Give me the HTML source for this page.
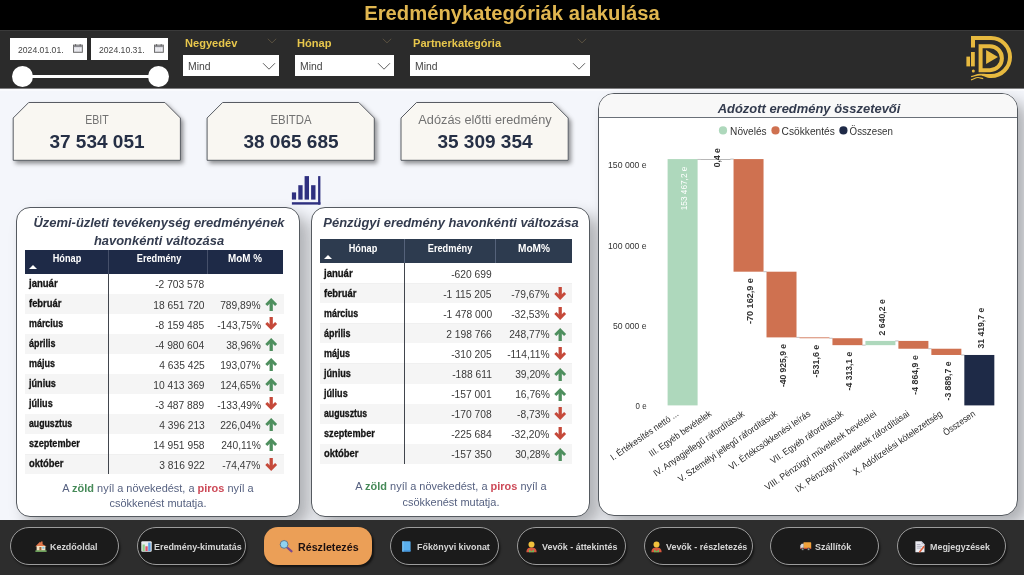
<!DOCTYPE html>
<html lang="hu"><head><meta charset="utf-8"><title>Eredménykategóriák alakulása</title>
<style>
html,body{margin:0;padding:0}
body{width:1024px;height:575px;position:relative;overflow:hidden;background:#f4f6fb;font-family:"Liberation Sans", sans-serif}
.t{position:absolute;white-space:nowrap;line-height:1;margin:0;padding:0}
.ar{position:absolute}
svg{display:block;overflow:visible}
</style></head><body>
<div style="position:absolute;left:0;top:0;width:1024px;height:30px;background:#000"></div>
<div style="position:absolute;left:0;top:30px;width:1024px;height:58px;background:#2b2b2b;border-top:1px solid #3a3a3a;box-sizing:border-box"></div>
<div style="position:absolute;left:0;top:88px;width:1024px;height:1px;background:#7e7e80"></div>
<div style="position:absolute;left:0;top:89px;width:1024px;height:2px;background:#f9fafd"></div>
<span class="t" style="top:3.47px;font-size:20.00px;color:#e0b650;font-weight:700;left:512.20px;transform:translateX(-50%) scaleX(1.0106);transform-origin:center center;">Eredménykategóriák alakulása</span>
<div style="position:absolute;left:10.2px;top:38.2px;width:76.6px;height:22px;background:#fff"></div>
<span class="t" style="top:45.04px;font-size:9.40px;color:#454545;left:17.70px;transform:scaleX(0.9206);transform-origin:left center;">2024.01.01.</span>
<svg style="position:absolute;left:73.1px;top:43.5px" width="9.8" height="8.8" viewBox="0 0 9.8 8.8"><rect x="0.45" y="1.1" width="8.9" height="7.2" fill="#dcdce2" stroke="#606060" stroke-width="0.9"/><rect x="0.9" y="1.5" width="8" height="1.5" fill="#8a8a90"/><path d="M1.7 4.1h1.9v2.9h-1.9zM4.4 4.1h1.5v2.9h-1.5zM6.7 4.1h1.5v2.9h-1.5z" fill="#eeeef2"/><path d="M2.6 0.2v1.6M7.2 0.2v1.6" stroke="#585858" stroke-width="1"/></svg>
<div style="position:absolute;left:91.0px;top:38.2px;width:77.3px;height:22px;background:#fff"></div>
<span class="t" style="top:45.04px;font-size:9.40px;color:#454545;left:98.50px;transform:scaleX(0.9206);transform-origin:left center;">2024.10.31.</span>
<svg style="position:absolute;left:153.9px;top:43.5px" width="9.8" height="8.8" viewBox="0 0 9.8 8.8"><rect x="0.45" y="1.1" width="8.9" height="7.2" fill="#dcdce2" stroke="#606060" stroke-width="0.9"/><rect x="0.9" y="1.5" width="8" height="1.5" fill="#8a8a90"/><path d="M1.7 4.1h1.9v2.9h-1.9zM4.4 4.1h1.5v2.9h-1.5zM6.7 4.1h1.5v2.9h-1.5z" fill="#eeeef2"/><path d="M2.6 0.2v1.6M7.2 0.2v1.6" stroke="#585858" stroke-width="1"/></svg>
<div style="position:absolute;left:22px;top:75.2px;width:136px;height:2.8px;background:#fff"></div>
<div style="position:absolute;left:11.8px;top:66.0px;width:21px;height:21px;border-radius:50%;background:#fff"></div>
<div style="position:absolute;left:147.9px;top:66.0px;width:21px;height:21px;border-radius:50%;background:#fff"></div>
<span class="t" style="top:37.08px;font-size:11.60px;color:#e8c74c;font-weight:700;left:185.30px;transform:scaleX(0.9563);transform-origin:left center;">Negyedév</span>
<div style="position:absolute;left:182.8px;top:55.3px;width:96.4px;height:21px;background:#fff"></div>
<span class="t" style="top:61.23px;font-size:10.60px;color:#444;left:187.80px;transform:scaleX(0.9796);transform-origin:left center;">Mind</span>
<svg style="position:absolute;left:261.7px;top:62px" width="14" height="9" viewBox="0 0 14 9"><path d="M1 1.2L7 7.2L13 1.2" fill="none" stroke="#505050" stroke-width="0.9"/></svg>
<svg style="position:absolute;left:266.7px;top:38px" width="10" height="6" viewBox="0 0 10 6"><path d="M0.8 0.8L5 4.8L9.2 0.8" fill="none" stroke="#5a5140" stroke-width="1"/></svg>
<span class="t" style="top:37.08px;font-size:11.60px;color:#e8c74c;font-weight:700;left:297.20px;transform:scaleX(0.9563);transform-origin:left center;">Hónap</span>
<div style="position:absolute;left:294.7px;top:55.3px;width:99.3px;height:21px;background:#fff"></div>
<span class="t" style="top:61.23px;font-size:10.60px;color:#444;left:299.70px;transform:scaleX(0.9796);transform-origin:left center;">Mind</span>
<svg style="position:absolute;left:376.5px;top:62px" width="14" height="9" viewBox="0 0 14 9"><path d="M1 1.2L7 7.2L13 1.2" fill="none" stroke="#505050" stroke-width="0.9"/></svg>
<svg style="position:absolute;left:381.5px;top:38px" width="10" height="6" viewBox="0 0 10 6"><path d="M0.8 0.8L5 4.8L9.2 0.8" fill="none" stroke="#5a5140" stroke-width="1"/></svg>
<span class="t" style="top:37.08px;font-size:11.60px;color:#e8c74c;font-weight:700;left:413.00px;transform:scaleX(0.9563);transform-origin:left center;">Partnerkategória</span>
<div style="position:absolute;left:409.8px;top:55.3px;width:179.9px;height:21px;background:#fff"></div>
<span class="t" style="top:61.23px;font-size:10.60px;color:#444;left:414.80px;transform:scaleX(0.9796);transform-origin:left center;">Mind</span>
<svg style="position:absolute;left:572.2px;top:62px" width="14" height="9" viewBox="0 0 14 9"><path d="M1 1.2L7 7.2L13 1.2" fill="none" stroke="#505050" stroke-width="0.9"/></svg>
<svg style="position:absolute;left:577.2px;top:38px" width="10" height="6" viewBox="0 0 10 6"><path d="M0.8 0.8L5 4.8L9.2 0.8" fill="none" stroke="#5a5140" stroke-width="1"/></svg>
<svg style="position:absolute;left:960px;top:30px" width="64" height="58" viewBox="960 30 64 58">
<g fill="none" stroke="#e7b93f" stroke-width="4">
<path d="M973 47.5V38.1H991A19 19 0 0 1 991 76.1"/>
<path d="M980.6 46.2H989.9A12 12 0 0 1 989.9 70.2H980.6Z"/>
</g>
<g fill="#e7b93f">
<path d="M991.2 74.1C987 74.1 984 73.5 980 73.7C976.5 73.9 974 75.2 971 76L971.3 77.3C974 76.6 976.5 75.5 980 75.4C984 75.4 986 78.1 991.2 78.1Z"/>
<path d="M986.1 50.1V64.1L998 57.1Z"/>
<rect x="966.4" y="56.6" width="3.6" height="9.8"/>
<rect x="971" y="52" width="3.8" height="14.4"/>
<circle cx="973.3" cy="71.1" r="1.5"/>
</g>
<path d="M971 79.9C973.5 79.3 975.5 77.5 978 77.5C980 77.5 981.5 78.4 983.2 78.6" fill="none" stroke="#e7b93f" stroke-width="1.2"/>
</svg>
<svg style="position:absolute;left:0;top:90px" width="600" height="90" viewBox="0 90 600 90"><defs><filter id="ds" x="-10%" y="-10%" width="130%" height="140%"><feDropShadow dx="2.4" dy="2.8" stdDeviation="1.9" flood-color="#000" flood-opacity="0.42"/></filter></defs>
<polygon points="28.7,102.5 164.9,102.5 180.4,118 180.4,160.3 13.2,160.3 13.2,118" fill="#f9f7f2" stroke="#50545c" stroke-width="0.95" filter="url(#ds)"/>
<polygon points="222.6,102.5 358.8,102.5 374.3,118 374.3,160.3 207.1,160.3 207.1,118" fill="#f9f7f2" stroke="#50545c" stroke-width="0.95" filter="url(#ds)"/>
<polygon points="416.5,102.5 552.7,102.5 568.2,118 568.2,160.3 401.0,160.3 401.0,118" fill="#f9f7f2" stroke="#50545c" stroke-width="0.95" filter="url(#ds)"/>
</svg>
<span class="t" style="top:114.04px;font-size:12.00px;color:#727272;left:96.80px;transform:translateX(-50%) scaleX(0.8811);transform-origin:center center;">EBIT</span>
<span class="t" style="top:133.49px;font-size:18.20px;color:#252f45;font-weight:700;left:97.20px;transform:translateX(-50%) scaleX(1.0458);transform-origin:center center;">37 534 051</span>
<span class="t" style="top:114.04px;font-size:12.00px;color:#727272;left:290.70px;transform:translateX(-50%) scaleX(0.9459);transform-origin:center center;">EBITDA</span>
<span class="t" style="top:133.49px;font-size:18.20px;color:#252f45;font-weight:700;left:291.10px;transform:translateX(-50%) scaleX(1.0458);transform-origin:center center;">38 065 685</span>
<span class="t" style="top:114.04px;font-size:12.00px;color:#727272;left:484.60px;transform:translateX(-50%) scaleX(1.0629);transform-origin:center center;">Adózás előtti eredmény</span>
<span class="t" style="top:133.49px;font-size:18.20px;color:#252f45;font-weight:700;left:485.00px;transform:translateX(-50%) scaleX(1.0458);transform-origin:center center;">35 309 354</span>
<svg style="position:absolute;left:288px;top:172px" width="36" height="36" viewBox="288 172 36 36"><g fill="#2f3080">
<rect x="291.9" y="192.4" width="4.2" height="7.2"/><rect x="298.3" y="185.2" width="4.3" height="14.4"/><rect x="304.6" y="176.1" width="4.4" height="23.5"/><rect x="311.1" y="185.2" width="4.4" height="14.4"/>
<rect x="318.1" y="176.1" width="2.3" height="28.5"/><rect x="291.9" y="202.2" width="28.5" height="2.4"/></g></svg>
<div style="position:absolute;box-sizing:border-box;background:#fff;border:1px solid #555a60;box-shadow:9px 9px 16px rgba(0,0,0,0.29);left:15.5px;top:207.3px;width:284.5px;height:309.4px;border-radius:14px"></div>
<div style="position:absolute;box-sizing:border-box;background:#fff;border:1px solid #555a60;box-shadow:9px 9px 16px rgba(0,0,0,0.29);left:311.3px;top:207.3px;width:278.5px;height:309.4px;border-radius:14px"></div>
<div style="position:absolute;box-sizing:border-box;background:#fff;border:1px solid #555a60;box-shadow:9px 9px 16px rgba(0,0,0,0.29);left:598px;top:93px;width:419.7px;height:423.3px;border-radius:16px;overflow:hidden"><div style="height:22.7px;background:#f8f8f8;border-bottom:1px solid #6a7078"></div></div>
<span class="t" style="top:215.63px;font-size:13.20px;color:#333b4e;font-weight:700;font-style:italic;left:158.80px;transform:translateX(-50%) scaleX(0.9816);transform-origin:center center;">Üzemi-üzleti tevékenység eredményének</span>
<span class="t" style="top:234.03px;font-size:13.20px;color:#333b4e;font-weight:700;font-style:italic;left:158.80px;transform:translateX(-50%) scaleX(0.9816);transform-origin:center center;">havonkénti változása</span>
<span class="t" style="top:215.63px;font-size:13.20px;color:#333b4e;font-weight:700;font-style:italic;left:451.20px;transform:translateX(-50%) scaleX(0.9816);transform-origin:center center;">Pénzügyi eredmény havonkénti változása</span>
<span class="t" style="top:102.03px;font-size:13.20px;color:#333b4e;font-weight:700;font-style:italic;left:809.00px;transform:translateX(-50%) scaleX(0.9816);transform-origin:center center;">Adózott eredmény összetevői</span>
<div style="position:absolute;left:24.9px;top:249.8px;width:258.1px;height:23.9px;background:#1e2a47"></div>
<div style="position:absolute;left:207.2px;top:249.8px;width:1px;height:23.9px;background:#46506a"></div>
<span class="t" style="top:254.14px;font-size:10.00px;color:#fff;font-weight:700;left:67.00px;transform:translateX(-50%) scaleX(0.9161);transform-origin:center center;">Hónap</span>
<span class="t" style="top:254.14px;font-size:10.00px;color:#fff;font-weight:700;left:158.50px;transform:translateX(-50%) scaleX(0.9202);transform-origin:center center;">Eredmény</span>
<span class="t" style="top:254.14px;font-size:10.00px;color:#fff;font-weight:700;left:245.30px;transform:translateX(-50%) scaleX(0.9868);transform-origin:center center;">MoM %</span>
<svg style="position:absolute;left:28.7px;top:265.2px" width="8" height="4" viewBox="0 0 8 4"><path d="M0 4L4 0L8 4Z" fill="#fff"/></svg>
<div style="position:absolute;left:24.9px;top:293.7px;width:258.7px;height:1px;background:#f0f0f0"></div>
<span class="t" style="top:279.17px;font-size:10.20px;color:#141414;font-weight:700;left:28.50px;transform:scaleX(0.9353);transform-origin:left center;-webkit-text-stroke:0.3px #141414;">január</span>
<span class="t" style="top:280.48px;font-size:10.30px;color:#3a3a3a;right:819.60px;transform:scaleX(0.9962);transform-origin:right center;">-2 703 578</span>
<div style="position:absolute;left:24.9px;top:294.2px;width:258.7px;height:19.6px;background:#f5f5f5"></div>
<span class="t" style="top:299.20px;font-size:10.20px;color:#141414;font-weight:700;left:28.50px;transform:scaleX(0.9228);transform-origin:left center;-webkit-text-stroke:0.3px #141414;">február</span>
<span class="t" style="top:300.51px;font-size:10.30px;color:#3a3a3a;right:819.60px;transform:scaleX(0.9962);transform-origin:right center;">18 651 720</span>
<span class="t" style="top:300.51px;font-size:10.30px;color:#3a3a3a;right:763.40px;transform:scaleX(0.9962);transform-origin:right center;">789,89%</span>
<svg class="ar" style="left:264.9px;top:297.8px" width="12.4" height="13" viewBox="0 0 12.4 13"><path d="M6.2 2V13" stroke="#4e8f5e" stroke-width="3.3" fill="none"/><path d="M1.3 7L6.2 2.1L11.1 7" stroke="#4e8f5e" stroke-width="2.9" fill="none" stroke-linejoin="miter"/></svg>
<div style="position:absolute;left:24.9px;top:333.8px;width:258.7px;height:1px;background:#f0f0f0"></div>
<span class="t" style="top:319.23px;font-size:10.20px;color:#141414;font-weight:700;left:28.50px;transform:scaleX(0.8752);transform-origin:left center;-webkit-text-stroke:0.3px #141414;">március</span>
<span class="t" style="top:320.54px;font-size:10.30px;color:#3a3a3a;right:819.60px;transform:scaleX(0.9962);transform-origin:right center;">-8 159 485</span>
<span class="t" style="top:320.54px;font-size:10.30px;color:#3a3a3a;right:763.40px;transform:scaleX(0.9962);transform-origin:right center;">-143,75%</span>
<svg class="ar" style="left:264.9px;top:317.3px" width="12.4" height="13" viewBox="0 0 12.4 13"><path d="M6.2 0V11" stroke="#c5493a" stroke-width="3.3" fill="none"/><path d="M1.3 6L6.2 10.9L11.1 6" stroke="#c5493a" stroke-width="2.9" fill="none" stroke-linejoin="miter"/></svg>
<div style="position:absolute;left:24.9px;top:334.3px;width:258.7px;height:19.6px;background:#f5f5f5"></div>
<span class="t" style="top:339.26px;font-size:10.20px;color:#141414;font-weight:700;left:28.50px;transform:scaleX(0.8795);transform-origin:left center;-webkit-text-stroke:0.3px #141414;">április</span>
<span class="t" style="top:340.57px;font-size:10.30px;color:#3a3a3a;right:819.60px;transform:scaleX(0.9962);transform-origin:right center;">-4 980 604</span>
<span class="t" style="top:340.57px;font-size:10.30px;color:#3a3a3a;right:763.40px;transform:scaleX(0.9962);transform-origin:right center;">38,96%</span>
<svg class="ar" style="left:264.9px;top:337.9px" width="12.4" height="13" viewBox="0 0 12.4 13"><path d="M6.2 2V13" stroke="#4e8f5e" stroke-width="3.3" fill="none"/><path d="M1.3 7L6.2 2.1L11.1 7" stroke="#4e8f5e" stroke-width="2.9" fill="none" stroke-linejoin="miter"/></svg>
<div style="position:absolute;left:24.9px;top:373.8px;width:258.7px;height:1px;background:#f0f0f0"></div>
<span class="t" style="top:359.29px;font-size:10.20px;color:#141414;font-weight:700;left:28.50px;transform:scaleX(0.8828);transform-origin:left center;-webkit-text-stroke:0.3px #141414;">május</span>
<span class="t" style="top:360.60px;font-size:10.30px;color:#3a3a3a;right:819.60px;transform:scaleX(0.9962);transform-origin:right center;">4 635 425</span>
<span class="t" style="top:360.60px;font-size:10.30px;color:#3a3a3a;right:763.40px;transform:scaleX(0.9962);transform-origin:right center;">193,07%</span>
<svg class="ar" style="left:264.9px;top:357.9px" width="12.4" height="13" viewBox="0 0 12.4 13"><path d="M6.2 2V13" stroke="#4e8f5e" stroke-width="3.3" fill="none"/><path d="M1.3 7L6.2 2.1L11.1 7" stroke="#4e8f5e" stroke-width="2.9" fill="none" stroke-linejoin="miter"/></svg>
<div style="position:absolute;left:24.9px;top:374.4px;width:258.7px;height:19.6px;background:#f5f5f5"></div>
<span class="t" style="top:379.32px;font-size:10.20px;color:#141414;font-weight:700;left:28.50px;transform:scaleX(0.8933);transform-origin:left center;-webkit-text-stroke:0.3px #141414;">június</span>
<span class="t" style="top:380.63px;font-size:10.30px;color:#3a3a3a;right:819.60px;transform:scaleX(0.9962);transform-origin:right center;">10 413 369</span>
<span class="t" style="top:380.63px;font-size:10.30px;color:#3a3a3a;right:763.40px;transform:scaleX(0.9962);transform-origin:right center;">124,65%</span>
<svg class="ar" style="left:264.9px;top:378.0px" width="12.4" height="13" viewBox="0 0 12.4 13"><path d="M6.2 2V13" stroke="#4e8f5e" stroke-width="3.3" fill="none"/><path d="M1.3 7L6.2 2.1L11.1 7" stroke="#4e8f5e" stroke-width="2.9" fill="none" stroke-linejoin="miter"/></svg>
<div style="position:absolute;left:24.9px;top:413.9px;width:258.7px;height:1px;background:#f0f0f0"></div>
<span class="t" style="top:399.35px;font-size:10.20px;color:#141414;font-weight:700;left:28.50px;transform:scaleX(0.8907);transform-origin:left center;-webkit-text-stroke:0.3px #141414;">július</span>
<span class="t" style="top:400.66px;font-size:10.30px;color:#3a3a3a;right:819.60px;transform:scaleX(0.9962);transform-origin:right center;">-3 487 889</span>
<span class="t" style="top:400.66px;font-size:10.30px;color:#3a3a3a;right:763.40px;transform:scaleX(0.9962);transform-origin:right center;">-133,49%</span>
<svg class="ar" style="left:264.9px;top:397.4px" width="12.4" height="13" viewBox="0 0 12.4 13"><path d="M6.2 0V11" stroke="#c5493a" stroke-width="3.3" fill="none"/><path d="M1.3 6L6.2 10.9L11.1 6" stroke="#c5493a" stroke-width="2.9" fill="none" stroke-linejoin="miter"/></svg>
<div style="position:absolute;left:24.9px;top:414.4px;width:258.7px;height:19.6px;background:#f5f5f5"></div>
<span class="t" style="top:419.38px;font-size:10.20px;color:#141414;font-weight:700;left:28.50px;transform:scaleX(0.8573);transform-origin:left center;-webkit-text-stroke:0.3px #141414;">augusztus</span>
<span class="t" style="top:420.69px;font-size:10.30px;color:#3a3a3a;right:819.60px;transform:scaleX(0.9962);transform-origin:right center;">4 396 213</span>
<span class="t" style="top:420.69px;font-size:10.30px;color:#3a3a3a;right:763.40px;transform:scaleX(0.9962);transform-origin:right center;">226,04%</span>
<svg class="ar" style="left:264.9px;top:418.0px" width="12.4" height="13" viewBox="0 0 12.4 13"><path d="M6.2 2V13" stroke="#4e8f5e" stroke-width="3.3" fill="none"/><path d="M1.3 7L6.2 2.1L11.1 7" stroke="#4e8f5e" stroke-width="2.9" fill="none" stroke-linejoin="miter"/></svg>
<div style="position:absolute;left:24.9px;top:453.9px;width:258.7px;height:1px;background:#f0f0f0"></div>
<span class="t" style="top:439.41px;font-size:10.20px;color:#141414;font-weight:700;left:28.50px;transform:scaleX(0.8971);transform-origin:left center;-webkit-text-stroke:0.3px #141414;">szeptember</span>
<span class="t" style="top:440.72px;font-size:10.30px;color:#3a3a3a;right:819.60px;transform:scaleX(0.9962);transform-origin:right center;">14 951 958</span>
<span class="t" style="top:440.72px;font-size:10.30px;color:#3a3a3a;right:763.40px;transform:scaleX(0.9962);transform-origin:right center;">240,11%</span>
<svg class="ar" style="left:264.9px;top:438.0px" width="12.4" height="13" viewBox="0 0 12.4 13"><path d="M6.2 2V13" stroke="#4e8f5e" stroke-width="3.3" fill="none"/><path d="M1.3 7L6.2 2.1L11.1 7" stroke="#4e8f5e" stroke-width="2.9" fill="none" stroke-linejoin="miter"/></svg>
<div style="position:absolute;left:24.9px;top:454.5px;width:258.7px;height:19.6px;background:#f5f5f5"></div>
<span class="t" style="top:459.44px;font-size:10.20px;color:#141414;font-weight:700;left:28.50px;transform:scaleX(0.9235);transform-origin:left center;-webkit-text-stroke:0.3px #141414;">október</span>
<span class="t" style="top:460.75px;font-size:10.30px;color:#3a3a3a;right:819.60px;transform:scaleX(0.9962);transform-origin:right center;">3 816 922</span>
<span class="t" style="top:460.75px;font-size:10.30px;color:#3a3a3a;right:763.40px;transform:scaleX(0.9962);transform-origin:right center;">-74,47%</span>
<svg class="ar" style="left:264.9px;top:457.5px" width="12.4" height="13" viewBox="0 0 12.4 13"><path d="M6.2 0V11" stroke="#c5493a" stroke-width="3.3" fill="none"/><path d="M1.3 6L6.2 10.9L11.1 6" stroke="#c5493a" stroke-width="2.9" fill="none" stroke-linejoin="miter"/></svg>
<div style="position:absolute;left:108.3px;top:273.7px;width:1px;height:200.3px;background:#41454d"></div>
<div style="position:absolute;left:108.3px;top:249.8px;width:1px;height:23.9px;background:#46506a"></div>
<div style="position:absolute;left:320.3px;top:239.4px;width:251.5px;height:23.9px;background:#2d3b4f"></div>
<div style="position:absolute;left:494.8px;top:239.4px;width:1px;height:23.9px;background:#55627a"></div>
<span class="t" style="top:243.74px;font-size:10.00px;color:#fff;font-weight:700;left:362.50px;transform:translateX(-50%) scaleX(0.9161);transform-origin:center center;">Hónap</span>
<span class="t" style="top:243.74px;font-size:10.00px;color:#fff;font-weight:700;left:449.70px;transform:translateX(-50%) scaleX(0.9202);transform-origin:center center;">Eredmény</span>
<span class="t" style="top:243.74px;font-size:10.00px;color:#fff;font-weight:700;left:534.00px;transform:translateX(-50%) scaleX(1.0104);transform-origin:center center;">MoM%</span>
<svg style="position:absolute;left:324.1px;top:254.8px" width="8" height="4" viewBox="0 0 8 4"><path d="M0 4L4 0L8 4Z" fill="#fff"/></svg>
<div style="position:absolute;left:320.3px;top:283.3px;width:252.1px;height:1px;background:#f0f0f0"></div>
<span class="t" style="top:268.77px;font-size:10.20px;color:#141414;font-weight:700;left:323.90px;transform:scaleX(0.9353);transform-origin:left center;-webkit-text-stroke:0.3px #141414;">január</span>
<span class="t" style="top:270.08px;font-size:10.30px;color:#3a3a3a;right:532.10px;transform:scaleX(0.9962);transform-origin:right center;">-620 699</span>
<div style="position:absolute;left:320.3px;top:283.8px;width:252.1px;height:19.6px;background:#f5f5f5"></div>
<span class="t" style="top:288.80px;font-size:10.20px;color:#141414;font-weight:700;left:323.90px;transform:scaleX(0.9228);transform-origin:left center;-webkit-text-stroke:0.3px #141414;">február</span>
<span class="t" style="top:290.11px;font-size:10.30px;color:#3a3a3a;right:532.10px;transform:scaleX(0.9962);transform-origin:right center;">-1 115 205</span>
<span class="t" style="top:290.11px;font-size:10.30px;color:#3a3a3a;right:474.50px;transform:scaleX(0.9962);transform-origin:right center;">-79,67%</span>
<svg class="ar" style="left:553.5px;top:286.8px" width="12.4" height="13" viewBox="0 0 12.4 13"><path d="M6.2 0V11" stroke="#c5493a" stroke-width="3.3" fill="none"/><path d="M1.3 6L6.2 10.9L11.1 6" stroke="#c5493a" stroke-width="2.9" fill="none" stroke-linejoin="miter"/></svg>
<div style="position:absolute;left:320.3px;top:323.4px;width:252.1px;height:1px;background:#f0f0f0"></div>
<span class="t" style="top:308.83px;font-size:10.20px;color:#141414;font-weight:700;left:323.90px;transform:scaleX(0.8752);transform-origin:left center;-webkit-text-stroke:0.3px #141414;">március</span>
<span class="t" style="top:310.14px;font-size:10.30px;color:#3a3a3a;right:532.10px;transform:scaleX(0.9962);transform-origin:right center;">-1 478 000</span>
<span class="t" style="top:310.14px;font-size:10.30px;color:#3a3a3a;right:474.50px;transform:scaleX(0.9962);transform-origin:right center;">-32,53%</span>
<svg class="ar" style="left:553.5px;top:306.9px" width="12.4" height="13" viewBox="0 0 12.4 13"><path d="M6.2 0V11" stroke="#c5493a" stroke-width="3.3" fill="none"/><path d="M1.3 6L6.2 10.9L11.1 6" stroke="#c5493a" stroke-width="2.9" fill="none" stroke-linejoin="miter"/></svg>
<div style="position:absolute;left:320.3px;top:323.9px;width:252.1px;height:19.6px;background:#f5f5f5"></div>
<span class="t" style="top:328.86px;font-size:10.20px;color:#141414;font-weight:700;left:323.90px;transform:scaleX(0.8795);transform-origin:left center;-webkit-text-stroke:0.3px #141414;">április</span>
<span class="t" style="top:330.17px;font-size:10.30px;color:#3a3a3a;right:532.10px;transform:scaleX(0.9962);transform-origin:right center;">2 198 766</span>
<span class="t" style="top:330.17px;font-size:10.30px;color:#3a3a3a;right:474.50px;transform:scaleX(0.9962);transform-origin:right center;">248,77%</span>
<svg class="ar" style="left:553.5px;top:327.5px" width="12.4" height="13" viewBox="0 0 12.4 13"><path d="M6.2 2V13" stroke="#4e8f5e" stroke-width="3.3" fill="none"/><path d="M1.3 7L6.2 2.1L11.1 7" stroke="#4e8f5e" stroke-width="2.9" fill="none" stroke-linejoin="miter"/></svg>
<div style="position:absolute;left:320.3px;top:363.4px;width:252.1px;height:1px;background:#f0f0f0"></div>
<span class="t" style="top:348.89px;font-size:10.20px;color:#141414;font-weight:700;left:323.90px;transform:scaleX(0.8828);transform-origin:left center;-webkit-text-stroke:0.3px #141414;">május</span>
<span class="t" style="top:350.20px;font-size:10.30px;color:#3a3a3a;right:532.10px;transform:scaleX(0.9962);transform-origin:right center;">-310 205</span>
<span class="t" style="top:350.20px;font-size:10.30px;color:#3a3a3a;right:474.50px;transform:scaleX(0.9962);transform-origin:right center;">-114,11%</span>
<svg class="ar" style="left:553.5px;top:346.9px" width="12.4" height="13" viewBox="0 0 12.4 13"><path d="M6.2 0V11" stroke="#c5493a" stroke-width="3.3" fill="none"/><path d="M1.3 6L6.2 10.9L11.1 6" stroke="#c5493a" stroke-width="2.9" fill="none" stroke-linejoin="miter"/></svg>
<div style="position:absolute;left:320.3px;top:364.0px;width:252.1px;height:19.6px;background:#f5f5f5"></div>
<span class="t" style="top:368.92px;font-size:10.20px;color:#141414;font-weight:700;left:323.90px;transform:scaleX(0.8933);transform-origin:left center;-webkit-text-stroke:0.3px #141414;">június</span>
<span class="t" style="top:370.23px;font-size:10.30px;color:#3a3a3a;right:532.10px;transform:scaleX(0.9962);transform-origin:right center;">-188 611</span>
<span class="t" style="top:370.23px;font-size:10.30px;color:#3a3a3a;right:474.50px;transform:scaleX(0.9962);transform-origin:right center;">39,20%</span>
<svg class="ar" style="left:553.5px;top:367.6px" width="12.4" height="13" viewBox="0 0 12.4 13"><path d="M6.2 2V13" stroke="#4e8f5e" stroke-width="3.3" fill="none"/><path d="M1.3 7L6.2 2.1L11.1 7" stroke="#4e8f5e" stroke-width="2.9" fill="none" stroke-linejoin="miter"/></svg>
<div style="position:absolute;left:320.3px;top:403.5px;width:252.1px;height:1px;background:#f0f0f0"></div>
<span class="t" style="top:388.95px;font-size:10.20px;color:#141414;font-weight:700;left:323.90px;transform:scaleX(0.8907);transform-origin:left center;-webkit-text-stroke:0.3px #141414;">július</span>
<span class="t" style="top:390.26px;font-size:10.30px;color:#3a3a3a;right:532.10px;transform:scaleX(0.9962);transform-origin:right center;">-157 001</span>
<span class="t" style="top:390.26px;font-size:10.30px;color:#3a3a3a;right:474.50px;transform:scaleX(0.9962);transform-origin:right center;">16,76%</span>
<svg class="ar" style="left:553.5px;top:387.6px" width="12.4" height="13" viewBox="0 0 12.4 13"><path d="M6.2 2V13" stroke="#4e8f5e" stroke-width="3.3" fill="none"/><path d="M1.3 7L6.2 2.1L11.1 7" stroke="#4e8f5e" stroke-width="2.9" fill="none" stroke-linejoin="miter"/></svg>
<div style="position:absolute;left:320.3px;top:404.0px;width:252.1px;height:19.6px;background:#f5f5f5"></div>
<span class="t" style="top:408.98px;font-size:10.20px;color:#141414;font-weight:700;left:323.90px;transform:scaleX(0.8573);transform-origin:left center;-webkit-text-stroke:0.3px #141414;">augusztus</span>
<span class="t" style="top:410.29px;font-size:10.30px;color:#3a3a3a;right:532.10px;transform:scaleX(0.9962);transform-origin:right center;">-170 708</span>
<span class="t" style="top:410.29px;font-size:10.30px;color:#3a3a3a;right:474.50px;transform:scaleX(0.9962);transform-origin:right center;">-8,73%</span>
<svg class="ar" style="left:553.5px;top:407.0px" width="12.4" height="13" viewBox="0 0 12.4 13"><path d="M6.2 0V11" stroke="#c5493a" stroke-width="3.3" fill="none"/><path d="M1.3 6L6.2 10.9L11.1 6" stroke="#c5493a" stroke-width="2.9" fill="none" stroke-linejoin="miter"/></svg>
<div style="position:absolute;left:320.3px;top:443.5px;width:252.1px;height:1px;background:#f0f0f0"></div>
<span class="t" style="top:429.01px;font-size:10.20px;color:#141414;font-weight:700;left:323.90px;transform:scaleX(0.8971);transform-origin:left center;-webkit-text-stroke:0.3px #141414;">szeptember</span>
<span class="t" style="top:430.32px;font-size:10.30px;color:#3a3a3a;right:532.10px;transform:scaleX(0.9962);transform-origin:right center;">-225 684</span>
<span class="t" style="top:430.32px;font-size:10.30px;color:#3a3a3a;right:474.50px;transform:scaleX(0.9962);transform-origin:right center;">-32,20%</span>
<svg class="ar" style="left:553.5px;top:427.0px" width="12.4" height="13" viewBox="0 0 12.4 13"><path d="M6.2 0V11" stroke="#c5493a" stroke-width="3.3" fill="none"/><path d="M1.3 6L6.2 10.9L11.1 6" stroke="#c5493a" stroke-width="2.9" fill="none" stroke-linejoin="miter"/></svg>
<div style="position:absolute;left:320.3px;top:444.1px;width:252.1px;height:19.6px;background:#f5f5f5"></div>
<span class="t" style="top:449.04px;font-size:10.20px;color:#141414;font-weight:700;left:323.90px;transform:scaleX(0.9235);transform-origin:left center;-webkit-text-stroke:0.3px #141414;">október</span>
<span class="t" style="top:450.35px;font-size:10.30px;color:#3a3a3a;right:532.10px;transform:scaleX(0.9962);transform-origin:right center;">-157 350</span>
<span class="t" style="top:450.35px;font-size:10.30px;color:#3a3a3a;right:474.50px;transform:scaleX(0.9962);transform-origin:right center;">30,28%</span>
<svg class="ar" style="left:553.5px;top:447.7px" width="12.4" height="13" viewBox="0 0 12.4 13"><path d="M6.2 2V13" stroke="#4e8f5e" stroke-width="3.3" fill="none"/><path d="M1.3 7L6.2 2.1L11.1 7" stroke="#4e8f5e" stroke-width="2.9" fill="none" stroke-linejoin="miter"/></svg>
<div style="position:absolute;left:403.7px;top:263.3px;width:1px;height:200.3px;background:#41454d"></div>
<div style="position:absolute;left:403.7px;top:239.4px;width:1px;height:23.9px;background:#55627a"></div>
<span class="t" style="top:483.23px;font-size:11.30px;color:#566180;left:157.50px;transform:translateX(-50%) scaleX(0.9701);transform-origin:center center;">A <b style="color:#468a58">zöld</b> nyíl a növekedést, a <b style="color:#cd4a58">piros</b> nyíl a</span>
<span class="t" style="top:498.33px;font-size:11.30px;color:#566180;left:157.50px;transform:translateX(-50%) scaleX(0.9701);transform-origin:center center;">csökkenést mutatja.</span>
<span class="t" style="top:481.03px;font-size:11.30px;color:#566180;left:451.30px;transform:translateX(-50%) scaleX(0.9701);transform-origin:center center;">A <b style="color:#468a58">zöld</b> nyíl a növekedést, a <b style="color:#cd4a58">piros</b> nyíl a</span>
<span class="t" style="top:496.63px;font-size:11.30px;color:#566180;left:451.30px;transform:translateX(-50%) scaleX(0.9701);transform-origin:center center;">csökkenést mutatja.</span>
<svg style="position:absolute;left:598px;top:117px" width="420" height="400" viewBox="598 117 420 400" font-family='"Liberation Sans", sans-serif'>
<circle cx="723.0" cy="130.4" r="4.1" fill="#aed8bc"/>
<text x="730.1" y="134.5" font-size="11.8" fill="#333" textLength="36.5" lengthAdjust="spacingAndGlyphs">Növelés</text>
<circle cx="775.5" cy="130.4" r="4.1" fill="#cf7150"/>
<text x="781.6" y="134.5" font-size="11.8" fill="#333" textLength="53.3" lengthAdjust="spacingAndGlyphs">Csökkentés</text>
<circle cx="843.4" cy="130.4" r="4.1" fill="#1e2a47"/>
<text x="849.6" y="134.5" font-size="11.8" fill="#333" textLength="43.2" lengthAdjust="spacingAndGlyphs">Összesen</text>
<text x="646.6" y="168.2" font-size="9.4" fill="#333" text-anchor="end" textLength="38.6" lengthAdjust="spacingAndGlyphs">150 000 e</text>
<text x="646.6" y="248.9" font-size="9.4" fill="#333" text-anchor="end" textLength="38.6" lengthAdjust="spacingAndGlyphs">100 000 e</text>
<text x="646.6" y="329.2" font-size="9.4" fill="#333" text-anchor="end" textLength="33.6" lengthAdjust="spacingAndGlyphs">50 000 e</text>
<text x="646.6" y="408.7" font-size="9.4" fill="#333" text-anchor="end" textLength="11.0" lengthAdjust="spacingAndGlyphs">0 e</text>
<rect x="667.60" y="159.09" width="30.0" height="246.31" fill="#aed8bc"/>
<path d="M697.40 159.44H700.77" stroke="#a4a4a4" stroke-width="0.7"/>
<text transform="translate(686.8,166.6) rotate(-90)" font-size="9" font-weight="400" fill="#fff" text-anchor="end" textLength="43.7" lengthAdjust="spacingAndGlyphs">153 467,2 e</text>
<text transform="translate(679.2,415.2) rotate(-34.6)" font-size="9.2" fill="#262626" text-anchor="end" textLength="80.3" lengthAdjust="spacingAndGlyphs">I. Értékesítés nettó ...</text>
<rect x="700.57" y="159.08" width="30.0" height="0.70" fill="#999"/>
<path d="M730.37 159.08H733.74" stroke="#a4a4a4" stroke-width="0.7"/>
<text transform="translate(719.8,167.2) rotate(-90)" font-size="8.6" font-weight="700" fill="#333" text-anchor="start" textLength="19.0" lengthAdjust="spacingAndGlyphs">0,4 e</text>
<text transform="translate(712.2,415.2) rotate(-34.6)" font-size="9.2" fill="#262626" text-anchor="end" textLength="73.6" lengthAdjust="spacingAndGlyphs">III. Egyéb bevételek</text>
<rect x="733.54" y="159.08" width="30.0" height="112.61" fill="#cf7150"/>
<path d="M763.34 271.70H766.71" stroke="#a4a4a4" stroke-width="0.7"/>
<text transform="translate(752.7,278.2) rotate(-90)" font-size="8.6" font-weight="700" fill="#333" text-anchor="end" textLength="45.8" lengthAdjust="spacingAndGlyphs">-70 162,9 e</text>
<text transform="translate(745.1,415.2) rotate(-34.6)" font-size="9.2" fill="#262626" text-anchor="end" textLength="108.4" lengthAdjust="spacingAndGlyphs">IV. Anyagjellegű ráfordítások</text>
<rect x="766.51" y="271.70" width="30.0" height="65.69" fill="#cf7150"/>
<path d="M796.31 337.38H799.68" stroke="#a4a4a4" stroke-width="0.7"/>
<text transform="translate(785.7,343.9) rotate(-90)" font-size="8.6" font-weight="700" fill="#333" text-anchor="end" textLength="43.2" lengthAdjust="spacingAndGlyphs">-40 925,9 e</text>
<text transform="translate(778.1,415.2) rotate(-34.6)" font-size="9.2" fill="#262626" text-anchor="end" textLength="118.4" lengthAdjust="spacingAndGlyphs">V. Személyi jellegű ráfordítások</text>
<rect x="799.48" y="337.38" width="30.0" height="0.85" fill="#cf7150"/>
<path d="M829.28 338.24H832.65" stroke="#a4a4a4" stroke-width="0.7"/>
<text transform="translate(818.7,344.7) rotate(-90)" font-size="8.6" font-weight="700" fill="#333" text-anchor="end" textLength="32.7" lengthAdjust="spacingAndGlyphs">-531,6 e</text>
<text transform="translate(811.1,415.2) rotate(-34.6)" font-size="9.2" fill="#262626" text-anchor="end" textLength="96.8" lengthAdjust="spacingAndGlyphs">VI. Értékcsökkenési leírás</text>
<rect x="832.45" y="338.24" width="30.0" height="6.92" fill="#cf7150"/>
<path d="M862.25 345.16H865.62" stroke="#a4a4a4" stroke-width="0.7"/>
<text transform="translate(851.7,351.7) rotate(-90)" font-size="8.6" font-weight="700" fill="#333" text-anchor="end" textLength="38.7" lengthAdjust="spacingAndGlyphs">-4 313,1 e</text>
<text transform="translate(844.1,415.2) rotate(-34.6)" font-size="9.2" fill="#262626" text-anchor="end" textLength="86.5" lengthAdjust="spacingAndGlyphs">VII. Egyéb ráfordítások</text>
<rect x="865.42" y="340.92" width="30.0" height="4.24" fill="#aed8bc"/>
<path d="M895.22 340.92H898.59" stroke="#a4a4a4" stroke-width="0.7"/>
<text transform="translate(884.6,335.4) rotate(-90)" font-size="8.6" font-weight="700" fill="#333" text-anchor="start" textLength="36.1" lengthAdjust="spacingAndGlyphs">2 640,2 e</text>
<text transform="translate(877.0,415.2) rotate(-34.6)" font-size="9.2" fill="#262626" text-anchor="end" textLength="133.0" lengthAdjust="spacingAndGlyphs">VIII. Pénzügyi műveletek bevételei</text>
<rect x="898.39" y="340.92" width="30.0" height="7.81" fill="#cf7150"/>
<path d="M928.19 348.73H931.56" stroke="#a4a4a4" stroke-width="0.7"/>
<text transform="translate(917.6,355.2) rotate(-90)" font-size="8.6" font-weight="700" fill="#333" text-anchor="end" textLength="39.5" lengthAdjust="spacingAndGlyphs">-4 864,9 e</text>
<text transform="translate(910.0,415.2) rotate(-34.6)" font-size="9.2" fill="#262626" text-anchor="end" textLength="136.5" lengthAdjust="spacingAndGlyphs">IX. Pénzügyi műveletek ráfordításai</text>
<rect x="931.36" y="348.73" width="30.0" height="6.24" fill="#cf7150"/>
<path d="M961.16 354.97H964.53" stroke="#a4a4a4" stroke-width="0.7"/>
<text transform="translate(950.6,361.5) rotate(-90)" font-size="8.6" font-weight="700" fill="#333" text-anchor="end" textLength="39.0" lengthAdjust="spacingAndGlyphs">-3 889,7 e</text>
<text transform="translate(943.0,415.2) rotate(-34.6)" font-size="9.2" fill="#262626" text-anchor="end" textLength="106.1" lengthAdjust="spacingAndGlyphs">X. Adófizetési kötelezettség</text>
<rect x="964.33" y="354.97" width="30.0" height="50.43" fill="#1e2a47"/>
<text transform="translate(983.5,348.5) rotate(-90)" font-size="8.6" font-weight="700" fill="#333" text-anchor="start" textLength="40.7" lengthAdjust="spacingAndGlyphs">31 419,7 e</text>
<text transform="translate(975.9,415.2) rotate(-34.6)" font-size="9.2" fill="#262626" text-anchor="end" textLength="36.6" lengthAdjust="spacingAndGlyphs">Összesen</text>
</svg>
<div style="position:absolute;left:0;top:519.8px;width:1024px;height:55.2px;background:#2d2d2d"></div>
<div style="position:absolute;box-sizing:border-box;left:10.2px;top:527px;width:109.2px;height:37.6px;border-radius:19px;background:#1b1b1b;border:1px solid #9c9c9c;box-shadow:1.5px 2px 2px rgba(0,0,0,0.5)"></div>
<span class="t" style="top:541.97px;font-size:9.60px;color:#d6d6d6;font-weight:700;left:49.80px;transform:scaleX(0.9295);transform-origin:left center;">Kezdőoldal</span>
<div style="position:absolute;box-sizing:border-box;left:137.1px;top:527px;width:109.2px;height:37.6px;border-radius:19px;background:#1b1b1b;border:1px solid #9c9c9c;box-shadow:1.5px 2px 2px rgba(0,0,0,0.5)"></div>
<span class="t" style="top:541.97px;font-size:9.60px;color:#d6d6d6;font-weight:700;left:154.30px;transform:scaleX(0.9295);transform-origin:left center;">Eredmény-kimutatás</span>
<div style="position:absolute;box-sizing:border-box;left:263.6px;top:526.8px;width:108.8px;height:37.8px;border-radius:14px;background:#eb9f57;box-shadow:1.5px 2px 2px rgba(0,0,0,0.55)"></div>
<span class="t" style="top:541.83px;font-size:11.30px;color:#1c1010;font-weight:700;left:298.40px;transform:scaleX(0.9460);transform-origin:left center;">Részletezés</span>
<div style="position:absolute;box-sizing:border-box;left:389.9px;top:527px;width:109.2px;height:37.6px;border-radius:19px;background:#1b1b1b;border:1px solid #9c9c9c;box-shadow:1.5px 2px 2px rgba(0,0,0,0.5)"></div>
<span class="t" style="top:541.97px;font-size:9.60px;color:#d6d6d6;font-weight:700;left:417.20px;transform:scaleX(0.9295);transform-origin:left center;">Főkönyvi kivonat</span>
<div style="position:absolute;box-sizing:border-box;left:516.9px;top:527px;width:109.2px;height:37.6px;border-radius:19px;background:#1b1b1b;border:1px solid #9c9c9c;box-shadow:1.5px 2px 2px rgba(0,0,0,0.5)"></div>
<span class="t" style="top:541.97px;font-size:9.60px;color:#d6d6d6;font-weight:700;left:541.80px;transform:scaleX(0.9295);transform-origin:left center;">Vevők - áttekintés</span>
<div style="position:absolute;box-sizing:border-box;left:643.8px;top:527px;width:109.2px;height:37.6px;border-radius:19px;background:#1b1b1b;border:1px solid #9c9c9c;box-shadow:1.5px 2px 2px rgba(0,0,0,0.5)"></div>
<span class="t" style="top:541.97px;font-size:9.60px;color:#d6d6d6;font-weight:700;left:665.80px;transform:scaleX(0.9295);transform-origin:left center;">Vevők - részletezés</span>
<div style="position:absolute;box-sizing:border-box;left:770.2px;top:527px;width:109.2px;height:37.6px;border-radius:19px;background:#1b1b1b;border:1px solid #9c9c9c;box-shadow:1.5px 2px 2px rgba(0,0,0,0.5)"></div>
<span class="t" style="top:541.97px;font-size:9.60px;color:#d6d6d6;font-weight:700;left:815.20px;transform:scaleX(0.9295);transform-origin:left center;">Szállítók</span>
<div style="position:absolute;box-sizing:border-box;left:896.9px;top:527px;width:109.2px;height:37.6px;border-radius:19px;background:#1b1b1b;border:1px solid #9c9c9c;box-shadow:1.5px 2px 2px rgba(0,0,0,0.5)"></div>
<span class="t" style="top:541.97px;font-size:9.60px;color:#d6d6d6;font-weight:700;left:929.60px;transform:scaleX(0.9295);transform-origin:left center;">Megjegyzések</span>
<svg style="position:absolute;left:34.5px;top:541px" width="12" height="11" viewBox="0 0 12 11"><path d="M0.3 5.5L5 0.8L6 1.8V0.6H7.6V3.2L11.7 5.5Z" fill="#e0764a"/><rect x="1.6" y="5" width="8.8" height="4.6" fill="#f3e2c4"/><rect x="4.4" y="6" width="2" height="3.6" fill="#a0643a"/><rect x="7.4" y="5.8" width="2" height="2" fill="#7ec4ea"/><rect x="0.4" y="9.4" width="11.2" height="1.4" fill="#7fbf6a"/></svg>
<svg style="position:absolute;left:141.4px;top:541px" width="11" height="11" viewBox="0 0 11 11"><rect x="0.3" y="0.3" width="10.4" height="10.4" rx="1" fill="#e8ecef"/><rect x="1.5" y="3.5" width="2.3" height="6.5" fill="#8fd08a"/><rect x="4.4" y="5.3" width="2.3" height="4.7" fill="#e0526a"/><rect x="7.2" y="1.6" width="2.4" height="8.4" fill="#5aa0e6"/></svg>
<svg style="position:absolute;left:279.2px;top:539.2px" width="15" height="15" viewBox="0 0 15 15"><path d="M7.6 8L12.6 12.4" stroke="#7a4a8c" stroke-width="2.1" stroke-linecap="round"/><circle cx="5.1" cy="5.4" r="3.9" fill="#8fd3f0" stroke="#5a6f86" stroke-width="0.9"/></svg>
<svg style="position:absolute;left:402.4px;top:540.8px" width="9" height="11" viewBox="0 0 9 11"><rect x="0.3" y="0.2" width="8.3" height="10.4" rx="0.8" fill="#5bb0ee"/><rect x="0.3" y="9.3" width="8.3" height="1.3" fill="#3f8fd6"/><rect x="0.3" y="0.2" width="1.2" height="10.4" fill="#7cc4f4"/></svg>
<svg style="position:absolute;left:526.4px;top:540.6px" width="11" height="11.5" viewBox="0 0 11 11.5"><path d="M0.4 11.2C0.4 7.6 2.4 6.4 5.5 6.4S10.6 7.6 10.6 11.2Z" fill="#d9583e"/><path d="M3 8.2L5.5 10.4L8 8.2V11.2H3Z" fill="#6db45a"/><circle cx="5.5" cy="3.4" r="3" fill="#f2c23c"/></svg>
<svg style="position:absolute;left:651.0px;top:540.6px" width="11" height="11.5" viewBox="0 0 11 11.5"><path d="M0.4 11.2C0.4 7.6 2.4 6.4 5.5 6.4S10.6 7.6 10.6 11.2Z" fill="#d9583e"/><path d="M3 8.2L5.5 10.4L8 8.2V11.2H3Z" fill="#6db45a"/><circle cx="5.5" cy="3.4" r="3" fill="#f2c23c"/></svg>
<svg style="position:absolute;left:800.2px;top:542.3px" width="11.5" height="9" viewBox="0 0 11.5 9"><rect x="3.4" y="0.3" width="7.8" height="6.2" rx="0.6" fill="#f0a23c"/><path d="M0.3 6.5V3.6L1.6 1.8H3.6V6.5Z" fill="#d9d9de"/><rect x="0.3" y="5.8" width="10.9" height="1.1" fill="#c74a3a"/><circle cx="2.7" cy="7.2" r="1.4" fill="#444"/><circle cx="8.6" cy="7.2" r="1.4" fill="#444"/><circle cx="2.7" cy="7.2" r="0.6" fill="#bbb"/><circle cx="8.6" cy="7.2" r="0.6" fill="#bbb"/></svg>
<svg style="position:absolute;left:914.8px;top:540.8px" width="10" height="11.5" viewBox="0 0 10 11.5"><path d="M0.4 0.3H6.6L9.5 3.2V11.2H0.4Z" fill="#ececf2"/><path d="M6.6 0.3V3.2H9.5Z" fill="#b8b8c8"/><path d="M1.8 3.5H5.5M1.8 5.3H7.5M1.8 7.1H6" stroke="#9a9aae" stroke-width="0.7"/><path d="M4.2 10.2L8.6 4.8L9.8 5.8L5.4 11.2L3.8 11.5Z" fill="#e0603a"/></svg>
</body></html>
